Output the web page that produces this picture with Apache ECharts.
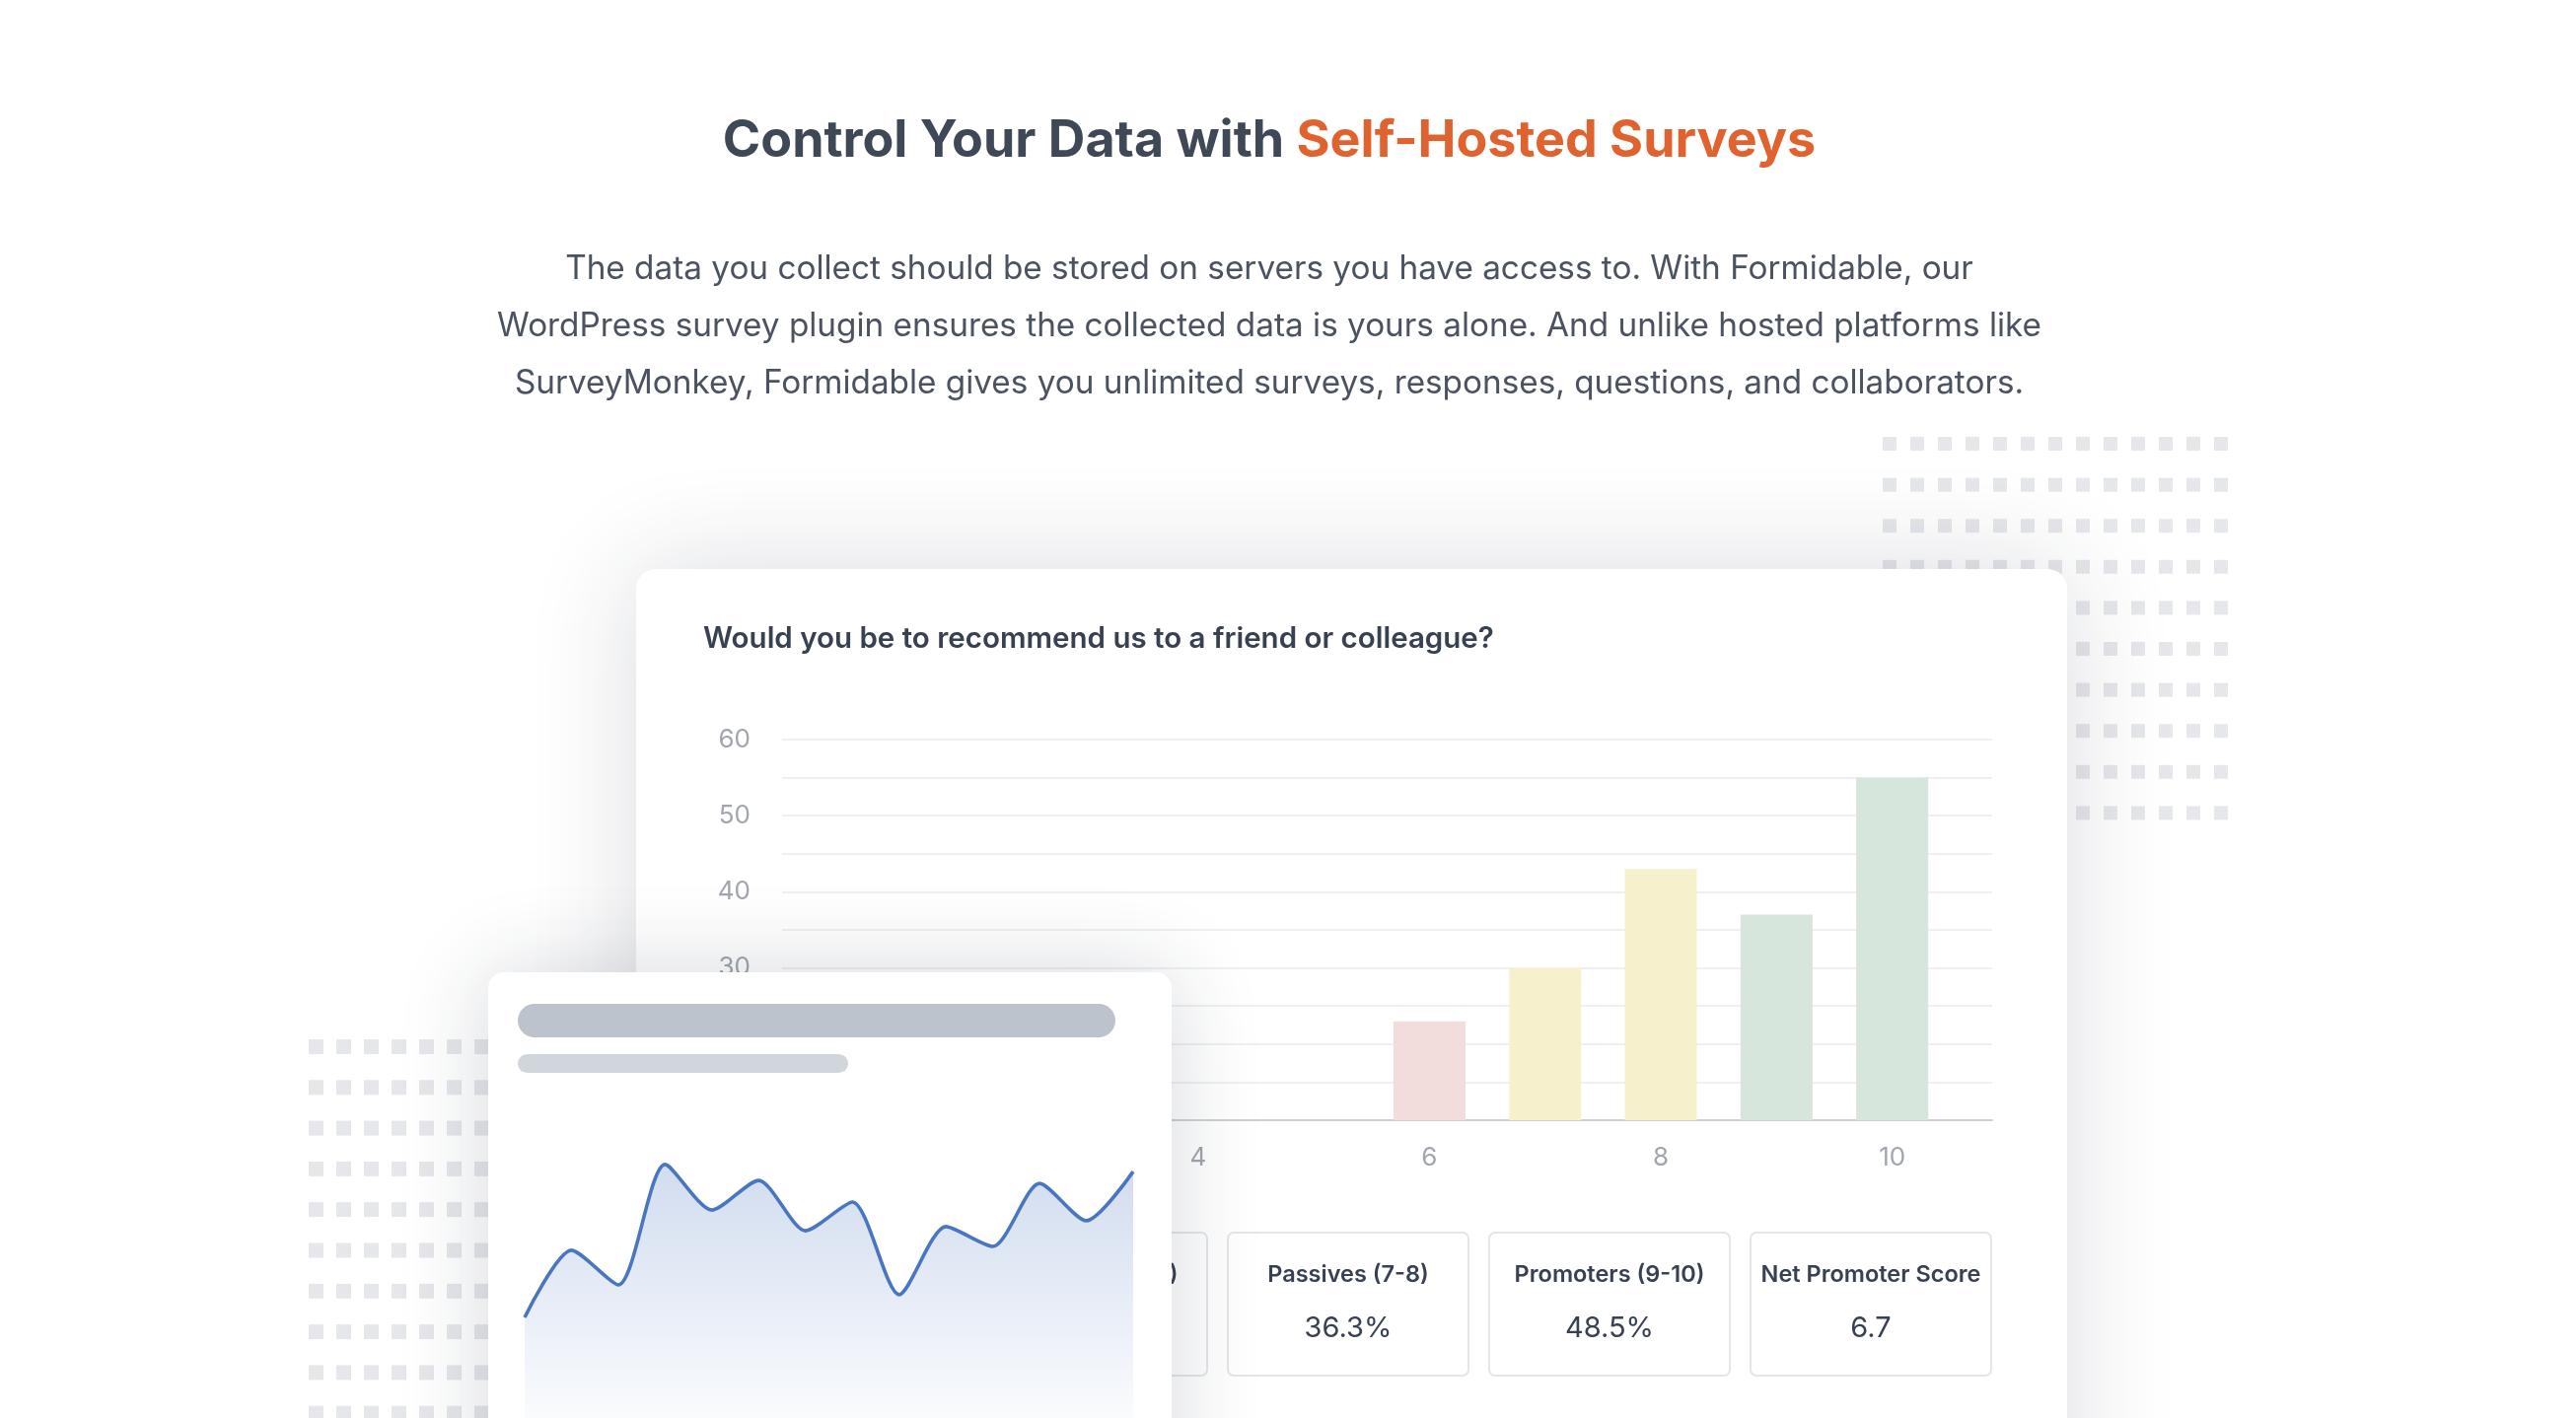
<!DOCTYPE html>
<html><head><meta charset="utf-8">
<script src="https://cdn.jsdelivr.net/npm/echarts@6/dist/echarts.min.js"></script>
<style>html,body{margin:0;padding:0;background:#fff;overflow:hidden}#c{width:2612px;height:1438px}</style>
</head><body><div id="c"></div>
<script>
// ---- content / data ----
const headingPlain = 'Control Your Data with ';
const headingAccent = 'Self-Hosted Surveys';
const introLines = [
  'The data you collect should be stored on servers you have access to. With Formidable, our',
  'WordPress survey plugin ensures the collected data is yours alone. And unlike hosted platforms like',
  'SurveyMonkey, Formidable gives you unlimited surveys, responses, questions, and collaborators.'
];
const question = 'Would you be to recommend us to a friend or colleague?';
const scores = [6, 7, 8, 9, 10];
const counts = [23, 30, 43, 37, 55];
const scoreTicks = [0, 2, 4, 6, 8, 10];
const statLabels = ['Detractors (0-6)', 'Passives (7-8)', 'Promoters (9-10)', 'Net Promoter Score'];
const statValues = ['15.2%', '36.3%', '48.5%', '6.7'];
const trend = [34, 56.7, 45, 85.7, 70.3, 80.3, 63.3, 73, 41.7, 64.7, 58, 79.3, 66.7, 83.3];

// ---- styles ----
const FONT = 'Inter, "Noto Sans", sans-serif';
function scoreColor(s) { return s <= 6 ? '#f2dcdc' : (s <= 8 ? '#f6f0cd' : '#d6e6dc'); }

const graphics = [];
// dot grids
function dots(x0, y0, cols, rows, dx, dy, size) {
  for (let r = 0; r < rows; r++) for (let c = 0; c < cols; c++) {
    graphics.push({ type: 'rect', z: 0, silent: true,
      shape: { x: x0 + c * dx, y: y0 + r * dy, width: size, height: size },
      style: { fill: '#e6e7eb' } });
  }
}
dots(1909, 443, 13, 10, 28, 41.6, 14);
dots(313, 1054, 7, 10, 28, 41.3, 15);

// heading
graphics.push({ type: 'text', z: 5, x: 1287, y: 143,
  style: { text: '{a|' + headingPlain + '}{b|' + headingAccent + '}', align: 'center', verticalAlign: 'middle',
    rich: { a: { fill: '#3f4857', fontSize: 52, fontWeight: 700, fontFamily: FONT },
            b: { fill: '#e0622f', fontSize: 52, fontWeight: 700, fontFamily: FONT } } } });
graphics.push({ type: 'text', z: 5, x: 1287, y: 331,
  style: { text: introLines.join('\n'), align: 'center', verticalAlign: 'middle', lineHeight: 58,
    fill: '#4b5260', fontSize: 33.3, fontFamily: FONT } });

// main card
graphics.push({ type: 'rect', z: 1, shape: { x: 645, y: 577, width: 1451, height: 1000, r: 20 },
  style: { fill: '#fff', shadowBlur: 110, shadowColor: 'rgba(30,40,60,0.16)' } });
graphics.push({ type: 'text', z: 4, x: 713, y: 648,
  style: { text: question, fill: '#374151', fontSize: 29.5, fontWeight: 600, fontFamily: FONT, verticalAlign: 'middle' } });

// stat boxes
const boxX = [980, 1245, 1510, 1775];
statLabels.forEach((lab, i) => {
  graphics.push({ type: 'rect', z: 3, shape: { x: boxX[i], y: 1250, width: 244, height: 145, r: 6 },
    style: { fill: '#fff', stroke: '#e3e6ea', lineWidth: 2 } });
  graphics.push({ type: 'text', z: 4, x: boxX[i] + 122, y: 1293,
    style: { text: lab, align: 'center', verticalAlign: 'middle', fill: '#374151', fontSize: 23.5, fontWeight: 600, fontFamily: FONT } });
  graphics.push({ type: 'text', z: 4, x: boxX[i] + 122, y: 1347,
    style: { text: statValues[i], align: 'center', verticalAlign: 'middle', fill: '#374151', fontSize: 29, fontFamily: FONT } });
});

// small overlay card
graphics.push({ type: 'rect', z: 10, shape: { x: 495, y: 986, width: 693, height: 600, r: 16 },
  style: { fill: '#fff', shadowBlur: 90, shadowColor: 'rgba(30,40,60,0.18)' } });
graphics.push({ type: 'rect', z: 11, shape: { x: 525, y: 1018, width: 606, height: 34, r: 17 }, style: { fill: '#bdc3cd' } });
graphics.push({ type: 'rect', z: 11, shape: { x: 525, y: 1069, width: 335, height: 19, r: 9.5 }, style: { fill: '#d1d5dc' } });

const option = {
  backgroundColor: '#ffffff',
  animation: false,
  graphic: { elements: graphics },
  grid: [
    { left: 793, top: 750, width: 1227, height: 386, containLabel: false },
    { left: 532, top: 1138, width: 617, height: 300, containLabel: false }
  ],
  xAxis: [
    { gridIndex: 0, type: 'value', min: 0.404, max: 10.864, z: 2,
      axisLine: { show: true, onZero: false, lineStyle: { color: '#cdd1d7', width: 2 } },
      axisTick: { show: false }, splitLine: { show: false },
      axisLabel: { customValues: scoreTicks, color: '#a1a6ae', fontSize: 26, fontFamily: FONT, margin: 25 } },
    { gridIndex: 1, type: 'category', boundaryGap: false, data: trend.map((_, i) => i), show: false }
  ],
  yAxis: [
    { gridIndex: 0, type: 'value', min: 10, max: 60, interval: 5, z: 2,
      axisLine: { show: false }, axisTick: { show: false },
      splitLine: { show: true, lineStyle: { color: '#eff0f2', width: 2 } },
      axisLabel: { color: '#a1a6ae', fontSize: 26, fontFamily: FONT, margin: 32, padding: [7, 0, 0, 0],
        formatter: v => (v % 10 === 0 ? String(v) : '') } },
    { gridIndex: 1, type: 'value', min: 0, max: 100, show: false }
  ],
  series: [
    { type: 'bar', xAxisIndex: 0, yAxisIndex: 0, z: 3, barWidth: 73, silent: true,
      data: scores.map((s, i) => ({ value: [s, counts[i]], itemStyle: { color: scoreColor(s) } })) },
    { type: 'line', xAxisIndex: 1, yAxisIndex: 1, z: 12, smooth: 0.25, symbol: 'none', silent: true,
      data: trend,
      lineStyle: { color: '#4a76c0', width: 3.6 },
      areaStyle: { color: new echarts.graphic.LinearGradient(0, 0, 0, 1, [
        { offset: 0, color: 'rgba(74,118,192,0.36)' },
        { offset: 1, color: 'rgba(74,118,192,0.04)' } ]) } }
  ]
};
const chart = echarts.init(document.getElementById('c'), null, { renderer: 'canvas', width: 2612, height: 1438 });
chart.setOption(option);
</script></body></html>
